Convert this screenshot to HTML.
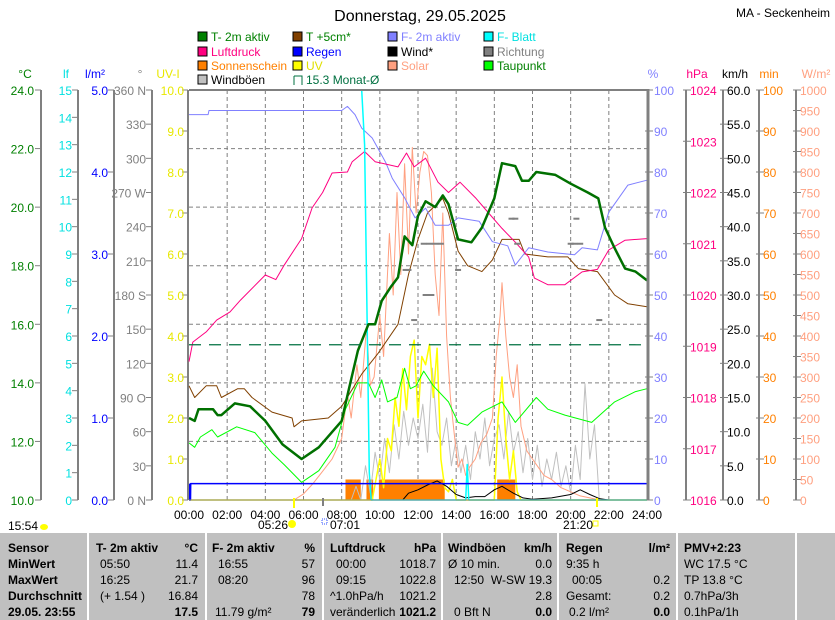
<!DOCTYPE html>
<html><head><meta charset="utf-8">
<style>
html,body{margin:0;padding:0;background:#fff;}
body{width:835px;height:620px;overflow:hidden;position:relative;font-family:"Liberation Sans",sans-serif;}
svg{position:absolute;left:0;top:0;}
text{font-family:"Liberation Sans",sans-serif;font-size:12px;}
#tbl{position:absolute;left:0;top:533px;width:835px;height:87px;background:#c0c0c0;}
.c{position:absolute;font-size:12px;line-height:16px;white-space:nowrap;color:#000;}
.b{font-weight:bold;}
.sep{position:absolute;top:0;width:2px;height:87px;background:#fff;}
</style></head>
<body>
<svg id="chart" width="835" height="533" viewBox="0 0 835 533"></svg>
<div id="tbl"></div>
<script>
// ---------- data ----------
const t2mT=[0,0.3,0.5,1.26,1.5,1.7,2.4,3.2,4.0,4.9,5.9,6.8,8.0,8.35,8.85,9.4,9.75,10.1,10.6,10.95,11.3,11.7,12.0,12.4,12.9,13.3,13.6,14.1,14.8,15.35,16.0,16.4,17.1,17.45,17.8,18.2,19.2,20.0,20.9,21.45,21.8,22.3,22.85,23.4,24];
const t2mV=[12.8,12.7,13.1,13.1,12.9,12.9,13.3,13.2,12.7,11.9,11.4,11.8,12.7,13.7,15.1,16.0,16.0,16.8,17.3,17.6,19.0,18.7,19.7,20.2,20.0,20.4,20.1,18.9,18.8,19.3,20.3,21.5,21.4,20.9,20.9,21.2,21.1,20.8,20.5,20.3,19.3,18.6,17.9,17.8,17.5];
const t5T=[0,0.3,0.9,1.45,1.7,2.55,2.9,3.3,4.35,5.4,5.5,5.9,7.3,8.0,9.05,9.9,10.95,11.5,12.0,12.5,13.3,13.6,14.1,14.6,15.35,15.9,16.4,17.3,17.6,18.8,19.85,20.4,21.4,22.3,23.0,24];
const t5V=[13.9,13.5,13.9,13.9,13.5,13.8,13.8,13.5,13.0,12.8,12.5,12.7,12.8,13.2,14.3,15.0,16.0,17.7,18.9,19.8,20.3,19.8,18.5,18.0,17.8,18.2,18.9,18.9,18.4,18.3,18.3,17.9,17.8,17.0,16.7,16.6];
const pT=[0,0.2,0.9,1.45,2.15,2.7,4.0,4.55,5.0,5.9,6.45,7.0,7.5,8.3,8.55,9.2,9.75,10.95,11.4,11.8,12.4,13.05,13.6,14.2,15.0,15.7,16.4,17.1,17.8,18.1,18.8,19.7,20.6,21.4,22.0,22.85,24];
const pV=[1018.7,1019.08,1019.28,1019.51,1019.67,1019.9,1020.39,1020.3,1020.59,1021.1,1021.7,1022.0,1022.38,1022.4,1022.6,1022.8,1022.6,1022.5,1022.77,1022.5,1022.67,1022.2,1022.0,1022.2,1021.9,1021.6,1021.3,1021.03,1020.74,1020.33,1020.2,1020.2,1020.45,1020.5,1020.88,1021.07,1021.1];
const hT=[0,1.0,1.05,8.0,8.3,8.7,9.05,9.6,10.3,10.65,11.3,11.85,12.4,12.9,13.6,14.1,15.2,15.9,16.7,17.1,17.8,18.8,20.2,20.6,21.4,22.0,23.0,24];
const hV=[94,94,95,95,96,94,90.7,88.3,82.4,78.5,73.7,68.8,71.2,67,67,68.8,68,63,62,57.3,61.5,60.5,59.8,61.5,61,70.2,76.8,78];
const leafT=[0,9.05,9.2,9.45,9.55,14.5,14.58,14.66,24];
const leafV=[15,15,13,1,0,0,1.3,0,0];
const rainT=[0,0.08,0.09,24];
const rainV=[0,0,0.2,0.2];
const dewT=[0,0.3,0.6,1.2,1.5,2.5,3.45,4.35,5.0,5.9,6.8,7.65,8.2,8.85,9.4,9.75,10.1,10.4,10.9,11.3,11.6,11.9,12.3,12.8,13.6,14.1,14.6,15.35,16.4,17.1,18.2,18.8,19.7,21.1,22.3,23.4,24];
const dewV=[11.95,11.8,12.15,12.4,12.15,12.5,12.3,11.6,11.2,10.6,11.0,11.8,13.1,14.0,14.0,13.5,14.1,13.35,13.5,14.5,13.8,13.9,14.4,13.9,13.35,12.65,12.55,13.0,13.35,12.65,13.5,13.1,12.9,12.65,13.35,13.7,13.8];
const solT=[0,5.5,6,6.5,7,7.5,8,8.3,8.5,8.8,9,9.3,9.5,9.7,10,10.2,10.5,10.7,10.9,11.1,11.3,11.5,11.7,11.9,12.1,12.3,12.5,12.7,12.9,13.1,13.3,13.5,13.7,13.9,14.1,14.3,14.5,14.7,15,15.3,15.6,15.9,16.1,16.3,16.4,16.6,16.8,17,17.2,17.4,17.7,18,18.3,18.6,19,19.5,20,20.5,21,21.5,24];
const solV=[0,0,15,40,70,100,150,260,200,330,250,420,280,300,450,350,650,500,750,550,820,600,860,700,800,850,840,750,550,450,700,400,250,160,80,100,60,80,100,140,160,200,350,450,530,400,300,250,330,180,120,100,80,60,50,30,20,10,5,0,0];
const uvT=[0,9.6,9.8,10.0,10.2,10.4,10.6,10.8,11.0,11.2,11.4,11.6,11.8,12.0,12.2,12.4,12.6,12.8,13.0,13.2,13.4,13.6,13.8,14.0,16.0,16.2,16.4,16.6,16.8,17.0,17.2,17.4,24];
const uvV=[0,0,0.5,1.0,0.3,1.5,1.2,2.5,1.8,3.2,2.2,3.5,3.9,2.0,3.5,3.3,3.8,2.5,3.7,1.0,0.3,0.2,0.5,0,0,2.0,3.0,1.5,0.5,1.2,0.2,0,0];
const gustT=[0,8.5,8.75,9,9.25,9.5,9.75,10,10.25,10.5,10.75,11,11.25,11.5,11.75,12,12.25,12.5,12.75,13,13.25,13.5,13.75,14,14.25,14.5,14.75,15,15.25,15.5,15.75,16,16.25,16.5,16.75,17,17.25,17.5,17.75,18,18.25,18.5,18.75,19,19.25,19.5,19.75,20,20.25,20.5,20.75,21,21.25,21.5,24];
const gustV=[0,0,2,0,5,1,7,3,9,4,11,6,13,8,12,9,14,7,19.3,10,8,12,5,9,4,8,3,10,6,12,5,9,11,6,13,7,10,4,9,3,8,2,6,3,7,2,5,1,8,3,17,6,11,0,0];
const windT=[0,11.2,11.5,12,12.5,13,13.5,14,14.5,15,15.5,16,16.4,17,17.5,18,19,20,20.5,21,21.5,22,24];
const windV=[0,0,1,1.5,2.2,2.8,2.0,0.8,0.3,0.5,0.5,1.5,2.0,1.0,0.3,0.1,0.3,0.8,1.5,0.8,0.2,0,0];
const dirT=[11.35,11.5,11.8,12.3,12.6,12.9,13.2,14.1,12.4,12.7,16.9,17.1,17.2,20.0,20.2,20.3,20.5,21.5];
const dirV=[202,202,158,225,225,225,225,202,180,180,247,247,225,225,225,247,225,158];
const sunStart=[8.2,9.3,9.95,16.15];
const sunEnd=[9.0,9.65,13.4,17.1];
const sunMin=[5,5,5,5];
const monthAvg=[15.3];
const xTicks=["00:00","02:00","04:00","06:00","08:00","10:00","12:00","14:00","16:00","18:00","20:00","22:00","24:00"];
const compassLabels=["0 N","30","60","90 O","120","150","180 S","210","240","270 W","300","330","360 N"];

// ---------- scales ----------
const X0=189,X1=647,YT=90,YB=500;
const xs=t=>X0+(X1-X0)*t/24;
const lin=(lo,hi)=>v=>YB-(v-lo)/(hi-lo)*(YB-YT);
const yC=lin(10,24),yLf=lin(0,15),yR=lin(0,5),yDir=lin(0,360),yUV=lin(0,10),yH=lin(0,100),yP=lin(1016,1024),yK=lin(0,60),yM=lin(0,100),yW=lin(0,1000);

const svg=document.getElementById('chart');
const NS='http://www.w3.org/2000/svg';
function el(tag,attrs,parent){const e=document.createElementNS(NS,tag);for(const k in attrs)e.setAttribute(k,attrs[k]);(parent||svg).appendChild(e);return e;}
function txt(x,y,s,fill,anchor,extra){const e=el('text',Object.assign({x:x,y:y,fill:fill,'text-anchor':anchor||'start'},extra||{}));e.textContent=s;return e;}

// title
let e=txt(420,21,'Donnerstag, 29.05.2025','#000','middle',{style:'font-size:16px'});


e=txt(830,17,'MA - Seckenheim','#000','end');



// legend
const legend=[
 [198,37,'#008000','T- 2m aktiv','#008000'],[293,37,'#804000','T +5cm*','#008000'],[388,37,'#8080ff','F- 2m aktiv','#8080ff'],[484,37,'#00ffff','F- Blatt','#00e0e0'],
 [198,52,'#ff0080','Luftdruck','#ff0080'],[293,52,'#0000ff','Regen','#0000ff'],[388,52,'#000000','Wind*','#000'],[484,52,'#808080','Richtung','#808080'],
 [198,66,'#ff8000','Sonnenschein','#ff8000'],[293,66,'#ffff00','UV','#e0e000'],[388,66,'#ffa080','Solar','#ffa080'],[484,66,'#00ff00','Taupunkt','#008000'],
 [198,80,'#c0c0c0','Windböen','#000']];
legend.forEach(l=>{
  const g=el('g',{});
  
  
  el('rect',{x:l[0],y:l[1]-5,width:9,height:9,fill:l[2],stroke:'#000','stroke-width':1},g);
  const t=el('text',{x:l[0]+13,y:l[1]+4,fill:l[4]},g);t.textContent=l[3];
});
{const g=el('g',{});
 
 
 el('path',{d:'M294,76 H302 V85',fill:'none',stroke:'#007040','stroke-width':1},g);
 el('path',{d:'M294,76 V85',fill:'none',stroke:'#007040','stroke-width':1},g);
 const t=el('text',{x:306,y:84,fill:'#007040'},g);t.textContent='15.3 Monat-Ø';}

// plot background & grid
el('rect',{x:X0,y:YT,width:X1-X0,height:YB-YT,fill:'#fff'});
for(let i=1;i<12;i++){const x=xs(i*2);el('line',{x1:x,y1:YT,x2:x,y2:YB,stroke:'#808080','stroke-dasharray':'4,3'});}
for(let i=1;i<7;i++){const y=YT+(YB-YT)*i/7;el('line',{x1:X0,y1:y,x2:X1,y2:y,stroke:'#808080','stroke-dasharray':'4,3'});}

// axes
function axis(name,ax,lo,hi,step,fmt,color,side,labelX,unit,unitX,labels){
  const g=el('g',{});
  
  
  el('line',{x1:ax,y1:YT,x2:ax,y2:YB,stroke:'#808080','stroke-width':2},g);
  const sc=lin(lo,hi);
  let i=0;
  for(let v=lo;v<=hi+1e-9;v+=step,i++){
    const y=sc(v);
    if(side==='L'){el('line',{x1:ax-6,y1:y,x2:ax,y2:y,stroke:'#808080'},g);}
    else{el('line',{x1:ax-3,y1:y,x2:ax+5,y2:y,stroke:'#808080'},g);}
    const t=el('text',{x:labelX,y:y+5,fill:color,'text-anchor':side==='L'?'end':'start'},g);
    t.textContent=labels?labels[i]:fmt(v);
  }
  const u=el('text',{x:unitX,y:78,fill:color,'text-anchor':'middle'},g);u.textContent=unit;
}
axis('celsius-axis',41,10,24,2,v=>v.toFixed(1),'#008000','L',34,'°C',25);
axis('leaf-wetness-axis',78,0,15,1,v=>String(v),'#00e0e0','L',72,'lf',66);
axis('rain-axis',114,0,5,1,v=>v.toFixed(1),'#0000ff','L',108,'l/m²',95);
axis('direction-axis',152,0,360,30,null,'#808080','L',146,'°',140,compassLabels);
axis('uv-axis',188,0,10,1,v=>v.toFixed(1),'#e8e800','L',184,'UV-I',168);
axis('humidity-axis',648,0,100,10,v=>String(v),'#8080ff','R',654,'%',653);
axis('pressure-axis',686,1016,1024,1,v=>String(v),'#ff0080','R',690,'hPa',697);
axis('wind-axis',723,0,60,5,v=>v.toFixed(1),'#000','R',727,'km/h',735);
axis('sunshine-axis',759,0,100,10,v=>String(v),'#ff8000','R',763,'min',769);
axis('solar-axis',796,0,1000,50,v=>String(v),'#ffa080','R',800,'W/m²',816);

// series
function series(name,T,V,ys,color,w){
  let d='';T.forEach((t,i)=>{d+=(i?'L':'M')+xs(t).toFixed(1)+','+ys(V[i]).toFixed(1);});
  const p=el('path',{d:d,fill:'none',stroke:color,'stroke-width':w||1,'stroke-linejoin':'round'});
  
  
}
sunStart.forEach((s,i)=>{
  const r=el('rect',{x:xs(s),y:yM(sunMin[i]),width:xs(sunEnd[i])-xs(s),height:YB-yM(sunMin[i]),fill:'#ff8000'});
  
  
});
series('wind-gust-line',gustT,gustV,yK,'#c0c0c0');
series('solar-line',solT,solV,yW,'#ffa080');
series('uv-line',uvT,uvV,yUV,'#ffff00',1.5);
series('wind-line',windT,windV,yK,'#000');
series('dewpoint-line',dewT,dewV,yC,'#00ff00');
series('temp-5cm-line',t5T,t5V,yC,'#804000');
series('humidity-line',hT,hV,yH,'#8080ff');
series('pressure-line',pT,pV,yP,'#ff0080');
series('leaf-wetness-line',leafT,leafV,yLf,'#00ffff',1.5);
series('rain-line',rainT,rainV,yR,'#0000ff',1.5);
el('rect',{x:189,y:yR(0.2),width:2,height:YB-yR(0.2),fill:'#0000ff'});
series('temp-2m-line',t2mT,t2mV,yC,'#007000',2.5);
{const y=yC(monthAvg[0]);const l=el('line',{x1:X0,y1:y,x2:X1,y2:y,stroke:'#007040','stroke-dasharray':'12,8','stroke-width':1.2});
 
 }
dirT.forEach((t,i)=>{
  const r=el('rect',{x:xs(t)-3,y:yDir(dirV[i])-1,width:6,height:2,fill:'#808080'});
  
  
});

// plot frame
el('line',{x1:X0,y1:YT,x2:X1,y2:YT,stroke:'#808080','stroke-width':2});
el('line',{x1:X0,y1:YB,x2:X1,y2:YB,stroke:'#808080','stroke-width':1});
el('line',{x1:X1+1,y1:YT-1,x2:X1+1,y2:YB,stroke:'#808080','stroke-width':3});

// x labels
xTicks.forEach((s,i)=>{
  const t=txt(xs(i*2),519,s,'#000','middle');
  
  
});
txt(8,530,'15:54','#000');
el('ellipse',{cx:44,cy:527,rx:4,ry:3,fill:'#ffff00'});
txt(258,529,'05:26','#000');
el('circle',{cx:292,cy:524,r:4,fill:'#ffff00'});
el('rect',{x:293,y:498,width:2,height:10,fill:'#ffff00'});
el('rect',{x:322,y:519,width:5,height:5,fill:'none',stroke:'#3050ff','stroke-dasharray':'1,1'});
txt(330,529,'07:01','#000');
el('rect',{x:322,y:498,width:2,height:8,fill:'#808080'});
txt(563,529,'21:20','#000');
el('rect',{x:593,y:521,width:5,height:5,fill:'none',stroke:'#ffff00'});
el('rect',{x:596,y:498,width:2,height:9,fill:'#ffff00'});

// ---------- table ----------
const tbl=document.getElementById('tbl');
[87,205,322,441,557,676,795].forEach(x=>{const d=document.createElement('div');d.className='sep';d.style.left=x+'px';tbl.appendChild(d);});
const rowsY=[7,23,39,55,71];
function cell(x,r,s,bold,right,name){
  const d=document.createElement('div');d.className='c'+(bold?' b':'');
  d.style.top=rowsY[r]+'px';
  if(right){d.style.right=(835-x)+'px';}else{d.style.left=x+'px';}
  d.textContent=s;
  
  
  tbl.appendChild(d);
}
['Sensor','MinWert','MaxWert','Durchschnitt','29.05. 23:55'].forEach((s,i)=>cell(8,i,s,true,false,'row-label'));
cell(96,0,'T- 2m aktiv',true);cell(198,0,'°C',true,true);
cell(100,1,'05:50');cell(198,1,'11.4',false,true);
cell(100,2,'16:25');cell(198,2,'21.7',false,true);
cell(100,3,'(+ 1.54 )');cell(198,3,'16.84',false,true);
cell(198,4,'17.5',true,true);
cell(212,0,'F- 2m aktiv',true);cell(315,0,'%',true,true);
cell(218,1,'16:55');cell(315,1,'57',false,true);
cell(218,2,'08:20');cell(315,2,'96',false,true);
cell(315,3,'78',false,true);
cell(215,4,'11.79 g/m²');cell(315,4,'79',true,true);
cell(330,0,'Luftdruck',true);cell(436,0,'hPa',true,true);
cell(336,1,'00:00');cell(436,1,'1018.7',false,true);
cell(336,2,'09:15');cell(436,2,'1022.8',false,true);
cell(330,3,'^1.0hPa/h');cell(436,3,'1021.2',false,true);
cell(330,4,'veränderlich');cell(436,4,'1021.2',true,true);
cell(448,0,'Windböen',true);cell(552,0,'km/h',true,true);
cell(448,1,'Ø 10 min.');cell(552,1,'0.0',false,true);
cell(454,2,'12:50');cell(552,2,'W-SW 19.3',false,true);
cell(552,3,'2.8',false,true);
cell(454,4,'0 Bft N');cell(552,4,'0.0',true,true);
cell(566,0,'Regen',true);cell(670,0,'l/m²',true,true);
cell(566,1,'9:35 h');
cell(572,2,'00:05');cell(670,2,'0.2',false,true);
cell(566,3,'Gesamt:');cell(670,3,'0.2',false,true);
cell(569,4,'0.2 l/m²');cell(670,4,'0.0',true,true);
cell(684,0,'PMV+2:23',true);
cell(684,1,'WC 17.5 °C');cell(684,2,'TP 13.8 °C');cell(684,3,'0.7hPa/3h');cell(684,4,'0.1hPa/1h');
</script>
</body></html>
